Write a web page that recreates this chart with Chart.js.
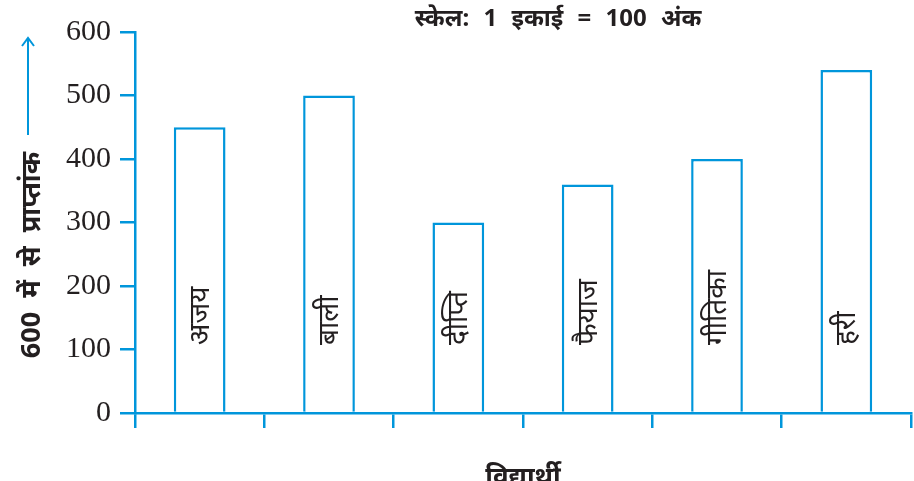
<!DOCTYPE html>
<html lang="hi">
<head>
<meta charset="UTF-8">
<title>विद्यार्थी अंक</title>
<script src="https://cdn.jsdelivr.net/npm/chart.js"></script>
<style>
  body { margin: 0; background: #fff; }
  #wrap { width: 914px; height: 481px; }
</style>
</head>
<body>
<div id="wrap"><canvas id="ctx"></canvas></div>
<script>
const students = ['अजय', 'बाली', 'दीप्ति', 'फैयाज', 'गीतिका', 'हरी'];
const marks = [450, 500, 300, 360, 400, 540];
const scaleNote = 'स्केल: 1 इकाई = 100 अंक';
const yTitle = '600 में से प्राप्तांक';
const xTitle = 'विद्यार्थी';

const blue = 'rgb(0,150,219)';
const ink = '#231f20';
const deva = '"Noto Sans", "DejaVu Sans", sans-serif';

// labels inside bars, scale note, y title with arrow
const decor = {
  id: 'decor',
  afterDatasetsDraw(chart) {
    const c = chart.ctx;
    const base = chart.scales.y.getPixelForValue(0);
    c.save();
    c.fillStyle = ink;
    c.font = '28px ' + deva;
    c.textAlign = 'left';
    c.textBaseline = 'middle';
    chart.getDatasetMeta(0).data.forEach((bar, i) => {
      c.save();
      c.translate(bar.x + 1, base - 68);
      c.rotate(-Math.PI / 2);
      c.fillText(students[i], 0, 0);
      c.restore();
    });

    c.font = 'bold 24px ' + deva;
    c.textAlign = 'center';
    c.wordSpacing = '8px';
    c.fillText(scaleNote, 558, 19);

    c.save();
    c.translate(32, 255);
    c.rotate(-Math.PI / 2);
    c.font = 'bold 27px ' + deva;
    c.wordSpacing = '7px';
    c.fillText(yTitle, 0, 0);
    c.restore();

    c.strokeStyle = blue;
    c.lineWidth = 2;
    c.beginPath();
    c.moveTo(28, 135);
    c.lineTo(28, 38);
    c.moveTo(22, 46);
    c.lineTo(28, 38);
    c.lineTo(34, 46);
    c.stroke();
    c.restore();
  }
};

new Chart(document.getElementById('ctx'), {
  type: 'bar',
  data: {
    labels: students,
    datasets: [{
      data: marks,
      backgroundColor: '#fff',
      borderColor: blue,
      borderWidth: 2.5,
      categoryPercentage: 1,
      barPercentage: 0.4
    }]
  },
  options: {
    responsive: true,
    maintainAspectRatio: false,
    animation: false,
    layout: { padding: { top: 32, right: 3, left: 0, bottom: 0 } },
    plugins: { legend: { display: false }, tooltip: { enabled: false } },
    scales: {
      x: {
        afterFit(s) { s.height = 68; },
        grid: { drawOnChartArea: false, tickLength: 15, color: blue, lineWidth: 2.5 },
        border: { color: blue, width: 2.5 },
        ticks: { display: false },
        title: { display: true, text: xTitle, color: ink, font: { family: deva, size: 26, weight: 'bold' }, padding: { top: 0, bottom: -12 } }
      },
      y: {
        min: 0, max: 600,
        afterFit(s) { s.width = 135; },
        grid: { drawOnChartArea: false, tickLength: 15, color: blue, lineWidth: 2.5 },
        border: { color: blue, width: 2.5 },
        ticks: { stepSize: 100, color: ink, padding: 9, font: { family: '"Liberation Serif", serif', size: 30 } }
      }
    }
  },
  plugins: [decor]
});
</script>
</body>
</html>
